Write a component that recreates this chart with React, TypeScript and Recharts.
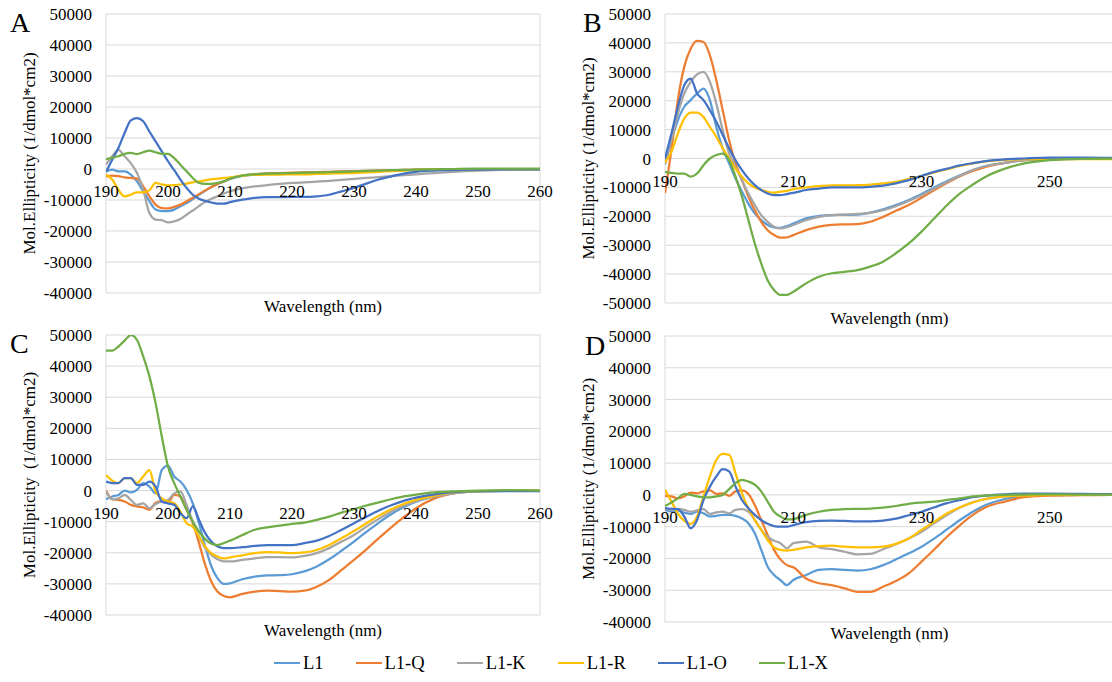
import React from 'react';
import { LineChart, Line, XAxis, YAxis, CartesianGrid, ReferenceDot, Label } from 'recharts';

const FONT = "'Liberation Serif', 'DejaVu Serif', serif";

const WAVELENGTHS = [190, 191, 192, 193, 194, 195, 196, 197, 198, 199, 200, 201, 202, 203, 204, 205, 206, 207, 208, 209, 210, 212, 214, 216, 218, 220, 222, 224, 226, 228, 230, 232, 234, 236, 238, 240, 243, 246, 250, 255, 260];

const SERIES = [
  { key: 'L1', name: 'L1', color: '#5B9BD5' },
  { key: 'L1Q', name: 'L1-Q', color: '#ED7D31' },
  { key: 'L1K', name: 'L1-K', color: '#A5A5A5' },
  { key: 'L1R', name: 'L1-R', color: '#FFC000' },
  { key: 'L1O', name: 'L1-O', color: '#4472C4' },
  { key: 'L1X', name: 'L1-X', color: '#70AD47' },
];

const TICKS_A_X = [190, 200, 210, 220, 230, 240, 250, 260];
const TICKS_B_X = [190, 210, 230, 250];
const TICKS_Y_40_50 = [-40000, -30000, -20000, -10000, 0, 10000, 20000, 30000, 40000, 50000];
const TICKS_Y_50_50 = [-50000, -40000, -30000, -20000, -10000, 0, 10000, 20000, 30000, 40000, 50000];

// Panel A
const A_L1 = [-800, -200, -800, -800, -1800, -4000, -7200, -10400, -13100, -13600, -13600, -13100, -12000, -11000, -9700, -8300, -7000, -5800, -4800, -4000, -3200, -2200, -1800, -1500, -1400, -1300, -1200, -1100, -1000, -900, -800, -700, -600, -500, -400, -300, -200, -100, 0, 0, 0];
const A_L1Q = [-2400, -2100, -2300, -2700, -2900, -3100, -5600, -8800, -11500, -12600, -12700, -12200, -11500, -10400, -9300, -8100, -6900, -5800, -4800, -4000, -3100, -2100, -1700, -1400, -1300, -1200, -1100, -1000, -900, -800, -700, -600, -500, -400, -300, -200, -100, 0, 0, 0, 0];
const A_L1K = [1400, 4100, 6200, 4100, 1900, -1300, -6700, -14200, -16300, -16500, -17200, -16900, -16100, -14700, -13400, -12000, -10600, -9600, -8800, -7900, -7200, -6200, -5600, -5200, -4800, -4500, -4300, -4100, -3800, -3500, -3200, -2900, -2600, -2300, -2000, -1700, -1300, -900, -500, -200, -100];
const A_L1R = [-1800, -3400, -6700, -8800, -8300, -7500, -7500, -6900, -4500, -5000, -5300, -5200, -5000, -4700, -4300, -4000, -3700, -3300, -3100, -2900, -2700, -2100, -1900, -1800, -1800, -1700, -1700, -1600, -1500, -1400, -1300, -1100, -900, -700, -500, -300, -100, 0, 0, 0, 0];
const A_L1O = [-1000, 3000, 6800, 11600, 15700, 16400, 15400, 12100, 8900, 5700, 2500, -400, -3400, -6100, -8300, -9600, -10300, -10800, -11200, -11200, -10700, -9900, -9300, -9100, -9100, -9000, -9000, -8800, -8300, -7200, -6100, -4700, -3400, -2400, -1500, -900, -500, -300, -200, -100, -100];
const A_L1X = [3200, 3600, 4100, 4900, 5200, 4800, 5400, 5900, 5400, 4900, 4900, 3500, 1400, -750, -2900, -4500, -4800, -4800, -4500, -4000, -3100, -2100, -1700, -1500, -1400, -1300, -1200, -1100, -1000, -900, -750, -600, -500, -400, -300, -200, -100, 0, 100, 100, 100];

// Panel B
const B_L1 = [-2000, 6300, 13200, 17900, 20200, 22500, 24200, 20200, 10900, 3500, -1700, -6900, -11500, -15600, -19000, -21300, -23000, -23800, -24000, -23400, -22500, -20700, -19900, -19600, -19500, -19400, -18700, -17600, -16100, -14400, -12300, -10000, -7800, -5800, -4000, -2600, -1500, -600, -200, -100, 0];
const B_L1Q = [-12000, 3000, 20200, 31700, 38000, 40700, 40300, 35700, 27100, 16700, 6300, -1700, -7500, -13200, -17900, -21900, -24800, -26500, -27400, -27300, -26500, -24800, -23600, -23000, -22800, -22700, -21900, -20200, -18100, -16100, -13600, -10900, -8400, -6100, -4300, -2900, -1500, -600, -200, -100, -100];
const B_L1K = [-2000, 6300, 15500, 22500, 26500, 29100, 30000, 26500, 19000, 9800, 1700, -2900, -7500, -12100, -16100, -19600, -21900, -23600, -24200, -23800, -23000, -21300, -20200, -19600, -19400, -19200, -18800, -17900, -16500, -14700, -12700, -10400, -8100, -6000, -4000, -2600, -1500, -600, -200, -100, 0];
const B_L1R = [-1400, 2300, 8600, 13800, 15900, 15900, 14400, 10900, 7500, 3500, 0, -3500, -6300, -8600, -10000, -10900, -11500, -11800, -11500, -11200, -10600, -10000, -9600, -9300, -9300, -9200, -9000, -8600, -8100, -7100, -6000, -4800, -3700, -2600, -1700, -1000, -500, -200, -200, -200, -200];
const B_L1O = [0, 8600, 17900, 25300, 27600, 22500, 20200, 16700, 12700, 8100, 3500, -600, -4000, -6900, -9200, -10900, -12100, -12700, -12700, -12300, -11900, -10900, -10400, -10000, -10000, -10000, -9800, -9400, -8600, -7500, -6000, -4600, -3500, -2400, -1600, -900, -300, 0, 300, 300, 200];
const B_L1X = [-4600, -5000, -5200, -5200, -6300, -5200, -2300, 0, 1200, 1700, -600, -6300, -13200, -21300, -29400, -36300, -42100, -45500, -47200, -47200, -46100, -43200, -40900, -39700, -39200, -38600, -37400, -35700, -32800, -29400, -25300, -20700, -16100, -12100, -9000, -6300, -3500, -1700, -600, -100, 0];

// Panel C
const C_L1 = [-2800, -1900, -1400, 0, -600, 200, 2400, 1300, -900, 6600, 8000, 4500, 2900, 200, -4100, -10500, -18000, -24400, -28200, -30000, -29800, -28500, -27700, -27300, -27200, -26900, -26000, -24400, -22100, -19300, -16400, -13300, -10300, -7600, -5400, -3600, -1900, -900, -300, -100, -100];
const C_L1Q = [0, -2800, -3000, -3500, -4600, -5100, -5400, -6200, -3900, -3500, -3900, -1400, -1900, -6200, -10500, -16900, -23900, -29300, -32500, -33900, -34300, -33200, -32500, -32200, -32300, -32500, -32200, -30900, -28700, -25500, -22300, -18900, -15300, -11800, -8600, -5700, -2500, -900, -200, -100, 0];
const C_L1K = [-300, -2800, -2500, -1400, -3000, -4600, -4100, -5700, -4300, -3500, -3000, -900, -300, -4600, -10000, -14800, -18500, -20700, -22100, -22800, -22800, -22300, -21800, -21400, -21400, -21500, -21000, -20100, -18500, -16400, -14300, -11600, -9100, -6800, -4900, -3400, -1900, -900, -300, -100, 0];
const C_L1R = [5000, 3200, 2400, 4000, 4000, 2400, 4500, 6600, -300, -2500, -3500, -4100, -6800, -10500, -11600, -14800, -18000, -20200, -21200, -21800, -21500, -20800, -20100, -19800, -19900, -20100, -19900, -19100, -17500, -15300, -13000, -10500, -8100, -6000, -4300, -3000, -1600, -600, -200, -100, 0];
const C_L1O = [2900, 2400, 2400, 4000, 4000, 1800, 1800, 2900, 1300, -3500, -4100, -4600, -7300, -8900, -5100, -9400, -13700, -16400, -18000, -18500, -18500, -18200, -17800, -17500, -17500, -17500, -16900, -16100, -14600, -12600, -10500, -8400, -6400, -4700, -3300, -2300, -1200, -500, -200, -200, -200];
const C_L1X = [45000, 45000, 46300, 48200, 50000, 48400, 43100, 36700, 28100, 17400, 7700, 2400, -1900, -6200, -10000, -13200, -15600, -17100, -17500, -16900, -16100, -14300, -12600, -11800, -11300, -10700, -10300, -9400, -8400, -7100, -6000, -4800, -3800, -2800, -1900, -1300, -600, -300, 0, 100, 0];

// Panel D
const D_L1 = [-4700, -5300, -4900, -5600, -6000, -5300, -5800, -6800, -6600, -6300, -6300, -6600, -7400, -8900, -12100, -17300, -22600, -25200, -26800, -28400, -26800, -25200, -23600, -23400, -23600, -23800, -23400, -22100, -20300, -18400, -16300, -13700, -10800, -7900, -5300, -3200, -1300, -300, 100, 100, 0];
const D_L1Q = [-300, -500, -1100, -500, 700, 500, 1100, 1400, 300, 500, -300, 1100, 1400, 300, -3200, -7900, -12600, -17300, -20300, -22100, -22800, -26300, -27800, -28400, -29400, -30500, -30500, -28900, -27100, -24700, -21000, -17100, -13100, -9500, -6300, -3900, -2100, -700, -200, -100, 0];
const D_L1K = [-4500, -4700, -4400, -4700, -5300, -4900, -4500, -6000, -5500, -5300, -5800, -4700, -4500, -5300, -7900, -11000, -13100, -14400, -15200, -16800, -15200, -14700, -16500, -17100, -17900, -18700, -18600, -17100, -15500, -13700, -11600, -8900, -6300, -4000, -2300, -1300, -500, -100, 100, 100, 0];
const D_L1R = [1600, -2100, -5800, -8200, -9100, -6800, -500, 5800, 11000, 12900, 12600, 6800, 500, -4200, -7900, -11000, -14200, -16500, -17300, -17500, -17300, -16500, -16100, -16000, -16300, -16500, -16500, -16300, -15400, -13700, -11000, -8400, -5800, -3900, -2400, -1300, -500, -200, 0, 0, 0];
const D_L1O = [-4200, -4400, -4500, -6800, -10500, -7900, -1600, 2600, 5800, 8100, 7400, 2600, -1600, -4200, -6300, -7900, -9100, -9800, -10000, -10000, -9500, -8600, -8200, -8100, -8200, -8300, -8300, -8100, -7500, -6400, -5300, -3900, -2600, -1600, -700, -200, 200, 400, 400, 300, 200];
const D_L1X = [-3500, -2400, -1100, 300, 0, -500, -800, -800, -500, 0, 1800, 3700, 4700, 4200, 3200, 1100, -2100, -5300, -6800, -7700, -7600, -6300, -5300, -4700, -4500, -4400, -4300, -4000, -3500, -2800, -2400, -2100, -1600, -1100, -500, -200, 0, 100, 200, 100, 100];

const buildRows = (cols: Record<string, number[]>) =>
  WAVELENGTHS.map((wl, i) => {
    const row: Record<string, number> = { wl };
    SERIES.forEach((s) => {
      row[s.key] = cols[s.key][i];
    });
    return row;
  });

const DATA_A = buildRows({ L1: A_L1, L1Q: A_L1Q, L1K: A_L1K, L1R: A_L1R, L1O: A_L1O, L1X: A_L1X });
const DATA_B = buildRows({ L1: B_L1, L1Q: B_L1Q, L1K: B_L1K, L1R: B_L1R, L1O: B_L1O, L1X: B_L1X });
const DATA_C = buildRows({ L1: C_L1, L1Q: C_L1Q, L1K: C_L1K, L1R: C_L1R, L1O: C_L1O, L1X: C_L1X });
const DATA_D = buildRows({ L1: D_L1, L1Q: D_L1Q, L1K: D_L1K, L1R: D_L1R, L1O: D_L1O, L1X: D_L1X });

const Y_TITLE = 'Mol.Ellipticity (1/dmol*cm2)';
const Y_TITLE_C = 'Mol.Ellipticity\u00A0 (1/dmol*cm2)';
const X_TITLE = 'Wavelength (nm)';

type PanelProps = {
  data: Record<string, number>[];
  left: number;
  top: number;
  width: number;
  height: number;
  marginTop: number;
  marginRight: number;
  yAxisWidth: number;
  xAxisHeight: number;
  xTicks: number[];
  yTicks: number[];
  yDomain: [number, number];
  yTitle: string;
  xTitleDy: number;
};

const Panel = (p: PanelProps) => {
  const renderYTitle = (props: any) => {
    const vb = props.viewBox || { x: 0, y: 0, width: 0, height: 0 };
    const cx = vb.x + vb.width - 77;
    const cy = vb.y + vb.height / 2;
    return (
      <text
        x={cx}
        y={cy}
        transform={`rotate(-90 ${cx} ${cy})`}
        textAnchor="middle"
        dominantBaseline="central"
        fontSize={17}
        fontFamily={FONT}
        fill="#000"
        style={{ whiteSpace: 'pre' }}
      >
        {p.yTitle}
      </text>
    );
  };
  const renderXTitle = (props: any) => {
    const vb = props.viewBox || { x: 0, y: 0, width: 0, height: 0 };
    return (
      <text
        x={vb.x + vb.width / 2}
        y={vb.y + p.xTitleDy}
        textAnchor="middle"
        dominantBaseline="central"
        fontSize={17}
        fontFamily={FONT}
        fill="#000"
      >
        {X_TITLE}
      </text>
    );
  };
  return (
    <div style={{ position: 'absolute', left: p.left, top: p.top }}>
      <LineChart
        width={p.width}
        height={p.height}
        data={p.data}
        margin={{ top: p.marginTop, right: p.marginRight, left: 0, bottom: 0 }}
        style={{ fontFamily: FONT }}
      >
        <CartesianGrid stroke="#D9D9D9" strokeWidth={1} />
        <XAxis
          dataKey="wl"
          type="number"
          domain={[190, 260]}
          ticks={p.xTicks}
          allowDataOverflow
          tick={false}
          tickLine={false}
          axisLine={false}
          height={p.xAxisHeight}
          label={<Label content={renderXTitle} />}
        />
        <YAxis
          type="number"
          domain={p.yDomain}
          ticks={p.yTicks}
          allowDataOverflow
          interval={0}
          width={p.yAxisWidth}
          tickLine={false}
          axisLine={false}
          tickSize={0}
          tickMargin={14}
          tick={{ fill: '#000', fontSize: 17, fontFamily: FONT }}
          label={<Label content={renderYTitle} />}
        />
        {SERIES.map((s) => (
          <Line
            key={s.key}
            type="monotone"
            dataKey={s.key}
            name={s.name}
            stroke={s.color}
            strokeWidth={2.25}
            dot={false}
            activeDot={false}
            isAnimationActive={false}
          />
        ))}
        {p.xTicks.map((t) => (
          <ReferenceDot
            key={`xt-${t}`}
            x={t}
            y={0}
            r={1}
            fill="none"
            stroke="none"
            ifOverflow="visible"
            label={{ value: String(t), position: 'bottom', offset: 15, fill: '#000', fontSize: 17, fontFamily: FONT }}
          />
        ))}
      </LineChart>
    </div>
  );
};

const LETTERS = [
  { text: 'A', x: 10, y: 32 },
  { text: 'B', x: 583, y: 32 },
  { text: 'C', x: 10, y: 353 },
  { text: 'D', x: 585, y: 355 },
];

export default function App() {
  return (
    <div
      style={{
        position: 'absolute',
        left: 0,
        top: 0,
        width: 1112,
        height: 682,
        overflow: 'hidden',
        background: '#fff',
        fontFamily: FONT,
      }}
    >
      <Panel data={DATA_A} left={0} top={0} width={556} height={320} marginTop={14} marginRight={16} yAxisWidth={106} xAxisHeight={27} xTicks={TICKS_A_X} yTicks={TICKS_Y_40_50} yDomain={[-40000, 50000]} yTitle={Y_TITLE} xTitleDy={13} />
      <Panel data={DATA_B} left={556} top={0} width={560} height={330} marginTop={14} marginRight={2} yAxisWidth={109} xAxisHeight={27} xTicks={TICKS_B_X} yTicks={TICKS_Y_50_50} yDomain={[-50000, 50000]} yTitle={Y_TITLE} xTitleDy={15} />
      <Panel data={DATA_C} left={0} top={320} width={556} height={320} marginTop={15} marginRight={16} yAxisWidth={106} xAxisHeight={25} xTicks={TICKS_A_X} yTicks={TICKS_Y_40_50} yDomain={[-40000, 50000]} yTitle={Y_TITLE_C} xTitleDy={15} />
      <Panel data={DATA_D} left={556} top={320} width={560} height={330} marginTop={16} marginRight={2} yAxisWidth={109} xAxisHeight={28} xTicks={TICKS_B_X} yTicks={TICKS_Y_40_50} yDomain={[-40000, 50000]} yTitle={Y_TITLE} xTitleDy={11} />
      <svg width={1112} height={682} style={{ position: 'absolute', left: 0, top: 0, pointerEvents: 'none' }}>
        {LETTERS.map((l) => (
          <text key={l.text} x={l.x} y={l.y} fontSize={28} fontFamily={FONT} fill="#000">
            {l.text}
          </text>
        ))}
      </svg>
      <div
        style={{
          position: 'absolute',
          left: 274,
          top: 651,
          display: 'flex',
          alignItems: 'center',
          height: 24,
          fontSize: 18.5,
          fontFamily: FONT,
          color: '#000',
          whiteSpace: 'nowrap',
        }}
      >
        {SERIES.map((s) => (
          <div key={s.key} style={{ display: 'flex', alignItems: 'center', marginRight: 32 }}>
            <span style={{ display: 'inline-block', width: 26, height: 2.5, background: s.color, marginRight: 3 }} />
            <span>{s.name}</span>
          </div>
        ))}
      </div>
    </div>
  );
}
